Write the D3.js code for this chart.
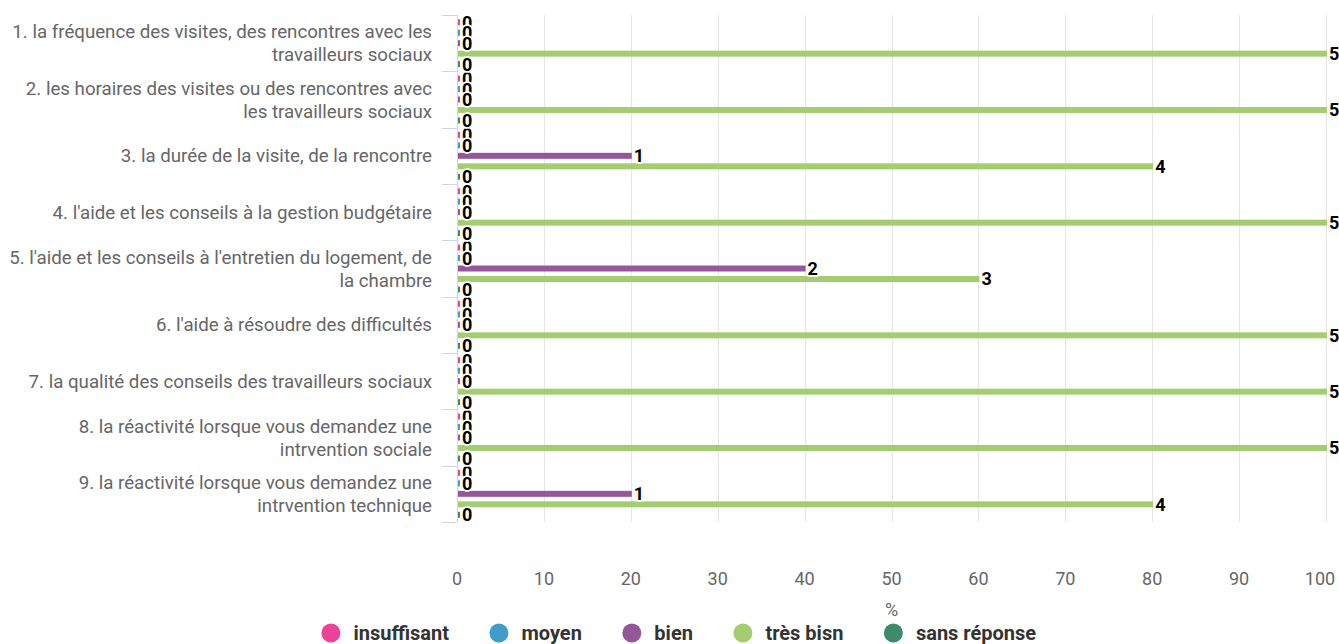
<!DOCTYPE html>
<html>
<head>
<meta charset="utf-8">
<script src="https://cdn.jsdelivr.net/npm/d3@7"></script>
<style>
  body { margin: 0; background: #fff; }
  svg { font-family: Roboto, 'Noto Sans', sans-serif; }
</style>
</head>
<body>
<div id="chart"></div>
<script>
'use strict';

// categories (line breaks as in the original)
const categories = [
    ['1. la fréquence des visites, des rencontres avec les', 'travailleurs sociaux'],
    ['2. les horaires des visites ou des rencontres avec', 'les travailleurs sociaux'],
    ['3. la durée de la visite, de la rencontre'],
    ["4. l'aide et les conseils à la gestion budgétaire"],
    ["5. l'aide et les conseils à l'entretien du logement, de", 'la chambre'],
    ["6. l'aide à résoudre des difficultés"],
    ['7. la qualité des conseils des travailleurs sociaux'],
    ['8. la réactivité lorsque vous demandez une', 'intrvention sociale'],
    ['9. la réactivité lorsque vous demandez une', 'intrvention technique']
];

const seriesNames = ['insuffisant', 'moyen', 'bien', 'très bisn', 'sans réponse'];
const seriesColors = ['#ec4399', '#409ccb', '#93579a', '#a3cd70', '#3c8b6b'];

// answer counts per series
const insuffisant = [0, 0, 0, 0, 0, 0, 0, 0, 0];
const moyen = [0, 0, 0, 0, 0, 0, 0, 0, 0];
const bien = [0, 0, 1, 0, 2, 0, 0, 0, 1];
const tresBien = [5, 5, 4, 5, 3, 5, 5, 5, 4];
const sansReponse = [0, 0, 0, 0, 0, 0, 0, 0, 0];
const respondents = [5, 5, 5, 5, 5, 5, 5, 5, 5];

const xTicks = [0, 10, 20, 30, 40, 50, 60, 70, 80, 90, 100];

const width = 1339;
const height = 644;
const margin = {top: 15, right: 13, bottom: 122, left: 457};

const allSeries = [insuffisant, moyen, bien, tresBien, sansReponse];

let svg = d3.select('#chart')
    .append('svg')
    .attr('width', width)
    .attr('height', height);

let x = d3.scaleLinear()
    .domain([0, 100])
    .range([margin.left, width - margin.right]);

let y = d3.scaleBand()
    .domain(d3.range(categories.length))
    .range([margin.top, height - margin.bottom]);

let ySub = d3.scaleBand()
    .domain(seriesNames)
    .range([0, y.bandwidth()])
    .paddingInner(0.43)
    .paddingOuter(0.4);

let plotBottom = height - margin.bottom;

// grid
svg.append('g')
    .selectAll('line')
    .data(xTicks.filter(d => d > 0))
    .join('line')
    .attr('x1', d => Math.round(x(d)) + 0.5)
    .attr('x2', d => Math.round(x(d)) + 0.5)
    .attr('y1', margin.top)
    .attr('y2', plotBottom)
    .attr('stroke', '#e6e6e6');

// category axis line + ticks
svg.append('line')
    .attr('x1', margin.left + 0.5)
    .attr('x2', margin.left + 0.5)
    .attr('y1', margin.top)
    .attr('y2', plotBottom)
    .attr('stroke', '#ccd6eb');

let boundaries = d3.range(categories.length + 1).map(i => margin.top + i * y.step());
svg.append('g')
    .selectAll('line')
    .data(boundaries)
    .join('line')
    .attr('x1', margin.left - 15)
    .attr('x2', margin.left)
    .attr('y1', d => Math.round(d) + 0.5)
    .attr('y2', d => Math.round(d) + 0.5)
    .attr('stroke', '#ccd6eb');

// category labels
let catLabels = svg.append('g')
    .selectAll('text')
    .data(categories)
    .join('text')
    .attr('text-anchor', 'end')
    .attr('fill', '#666')
    .style('font-size', '18.7px')
    .attr('transform', (d, i) => {
        let cy = y(i) + y.bandwidth() / 2 - (d.length - 1) * 11.5 + 6.5;
        return 'translate(' + (margin.left - 25) + ',' + cy + ')';
    });
catLabels.selectAll('tspan')
    .data(d => d)
    .join('tspan')
    .attr('x', 0)
    .attr('dy', (d, i) => i === 0 ? 0 : 23)
    .text(d => d);

// x axis labels (last one kept inside the chart, like the original)
svg.append('g')
    .selectAll('text')
    .data(xTicks)
    .join('text')
    .attr('x', d => Math.min(x(d), width - 4 - 15))
    .attr('y', plotBottom + 63)
    .attr('text-anchor', 'middle')
    .attr('fill', '#666')
    .style('font-size', '18px')
    .text(d => d);

svg.append('text')
    .attr('x', (x(0) + x(100)) / 2)
    .attr('y', plotBottom + 94)
    .attr('text-anchor', 'middle')
    .attr('fill', '#666')
    .style('font-size', '18px')
    .text('%');

// bars
let bars = [];
allSeries.forEach((values, s) => {
    values.forEach((v, i) => {
        bars.push({
            series: seriesNames[s],
            color: seriesColors[s],
            cat: i,
            count: v,
            pct: v / respondents[i] * 100
        });
    });
});

let barWidth = d => Math.max(2, x(d.pct) - x(0));

svg.append('g')
    .selectAll('rect')
    .data(bars)
    .join('rect')
    .attr('x', x(0) + 1)
    .attr('y', d => y(d.cat) + ySub(d.series))
    .attr('height', ySub.bandwidth())
    .attr('width', barWidth)
    .attr('fill', d => d.color);

// data labels
svg.append('g')
    .selectAll('text')
    .data(bars)
    .join('text')
    .attr('x', d => x(0) + 1 + barWidth(d) + 2)
    .attr('y', d => y(d.cat) + ySub(d.series) + ySub.bandwidth() / 2 + 6.5)
    .style('font-size', '18px')
    .style('font-weight', 'bold')
    .attr('fill', '#000')
    .attr('stroke', '#fff')
    .attr('stroke-width', 3.5)
    .attr('stroke-linejoin', 'round')
    .attr('paint-order', 'stroke')
    .text(d => d.count);

// legend
let legend = svg.append('g')
    .attr('transform', 'translate(0,' + 633 + ')');

let items = legend.selectAll('g')
    .data(seriesNames)
    .join('g');

items.append('circle')
    .attr('r', 9.5)
    .attr('cx', 0)
    .attr('cy', 0)
    .attr('fill', (d, i) => seriesColors[i]);

items.append('text')
    .attr('x', 22.5)
    .attr('y', 7)
    .attr('fill', '#333')
    .style('font-size', '20px')
    .style('font-weight', 'bold')
    .text(d => d);

let offsets = [];
let total = 0;
items.each(function(d, i) {
    let w = 22.5 + d3.select(this).select('text').node().getComputedTextLength();
    offsets.push(total);
    total += w + (i < seriesNames.length - 1 ? 50 : 0);
});
let start = width / 2 - total / 2 + 14;
items.attr('transform', (d, i) => 'translate(' + (start + offsets[i]) + ',0)');
</script>
</body>
</html>
